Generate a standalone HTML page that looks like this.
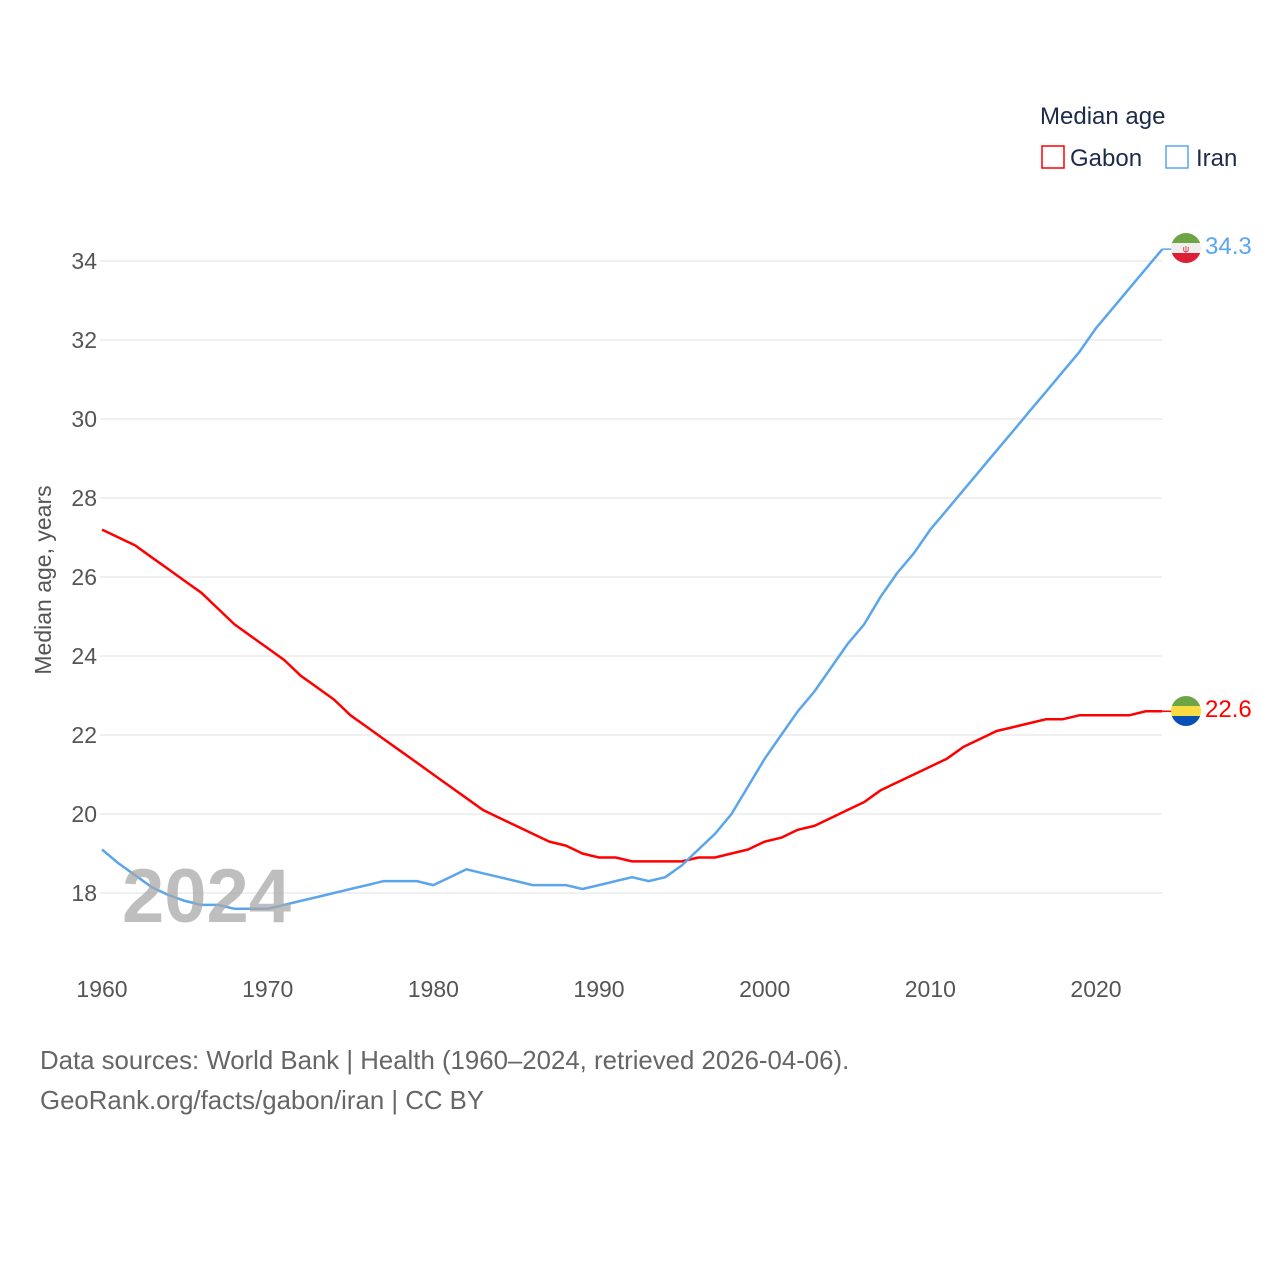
<!DOCTYPE html>
<html><head><meta charset="utf-8"><style>
body{margin:0;background:#fff;font-family:"Liberation Sans",sans-serif;}
svg text{font-family:"Liberation Sans",sans-serif;}
</style></head><body>
<svg width="1280" height="1280" xmlns="http://www.w3.org/2000/svg">
<rect width="1280" height="1280" fill="#fff"/>
<g id="grid"></g><g id="yticks"></g><g id="xticks"></g>
<g id="lines"></g>
<text x="122" y="922" font-size="76" font-weight="bold" fill="#a8a8a8" fill-opacity="0.75">2024</text>
<text transform="translate(51,580) rotate(-90)" text-anchor="middle" font-size="23" fill="#555">Median age, years</text>
<text x="1040" y="124" font-size="24" fill="#1c2b4a">Median age</text>
<g><rect x="1042" y="146" width="22" height="22" fill="none" stroke="#ff0000" stroke-width="1.5"/><text x="1070" y="166" font-size="24" fill="#1c2b4a">Gabon</text></g>
<g><rect x="1166" y="146" width="22" height="22" fill="none" stroke="#5aa5ec" stroke-width="1.5"/><text x="1196" y="166" font-size="24" fill="#1c2b4a">Iran</text></g>
<g>
<clipPath id="ci"><circle cx="1186" cy="248" r="15"/></clipPath>
<g clip-path="url(#ci)"><rect x="1170" y="232" width="32" height="11" fill="#6ea544"/><rect x="1170" y="243" width="32" height="10" fill="#eee"/><rect x="1170" y="253" width="32" height="12" fill="#dc1f35"/></g>
<text x="1186" y="252" font-size="9" fill="#dc1f35" text-anchor="middle">ψ</text></g>
<text x="1205" y="254" font-size="24" fill="#5aa5ec">34.3</text>
<g>
<clipPath id="cg"><circle cx="1186" cy="711" r="15"/></clipPath>
<g clip-path="url(#cg)"><rect x="1170" y="695" width="32" height="11" fill="#6ea544"/><rect x="1170" y="706" width="32" height="10" fill="#f9dc44"/><rect x="1170" y="716" width="32" height="12" fill="#0750b6"/></g></g>
<text x="1205" y="717" font-size="24" fill="#ff0000">22.6</text>
<text x="40" y="1069" font-size="25.8" fill="#666">Data sources: World Bank | Health (1960–2024, retrieved 2026-04-06).</text>
<text x="40" y="1109" font-size="25.8" fill="#666">GeoRank.org/facts/gabon/iran | CC BY</text>
</svg>
<script>
const years=[];for(let y=1960;y<=2024;y++)years.push(y);
const gabon=[27.2,27.0,26.8,26.5,26.2,25.9,25.6,25.2,24.8,24.5,24.2,23.9,23.5,23.2,22.9,22.5,22.2,21.9,21.6,21.3,21.0,20.7,20.4,20.1,19.9,19.7,19.5,19.3,19.2,19.0,18.9,18.9,18.8,18.8,18.8,18.8,18.9,18.9,19.0,19.1,19.3,19.4,19.6,19.7,19.9,20.1,20.3,20.6,20.8,21.0,21.2,21.4,21.7,21.9,22.1,22.2,22.3,22.4,22.4,22.5,22.5,22.5,22.5,22.6,22.6];
const iran=[19.1,18.75,18.45,18.15,17.95,17.8,17.7,17.7,17.6,17.6,17.6,17.7,17.8,17.9,18.0,18.1,18.2,18.3,18.3,18.3,18.2,18.4,18.6,18.5,18.4,18.3,18.2,18.2,18.2,18.1,18.2,18.3,18.4,18.3,18.4,18.7,19.1,19.5,20.0,20.7,21.4,22.0,22.6,23.1,23.7,24.3,24.8,25.5,26.1,26.6,27.2,27.7,28.2,28.7,29.2,29.7,30.2,30.7,31.2,31.7,32.3,32.8,33.3,33.8,34.3];
const yTicks=[18,20,22,24,26,28,30,32,34];
const xTicks=[1960,1970,1980,1990,2000,2010,2020];
const NS="http://www.w3.org/2000/svg";
const X=v=>102+(v-1960)*(994/60);
const Y=v=>893-(v-18)*39.5;
function mk(t,a,p){const e=document.createElementNS(NS,t);for(const k in a)e.setAttribute(k,a[k]);p.appendChild(e);return e;}
const grid=document.getElementById('grid'),yt=document.getElementById('yticks'),xt=document.getElementById('xticks'),ln=document.getElementById('lines');
yTicks.forEach(v=>{
const g=mk('line',{x1:100,x2:1162,y1:Y(v),y2:Y(v),stroke:'#e8e8e8','stroke-width':1.3},grid);


const t=mk('text',{x:97,y:Y(v)+8,'text-anchor':'end','font-size':23,fill:'#555'},yt);t.textContent=v;


});
xTicks.forEach(v=>{
const t=mk('text',{x:X(v),y:997,'text-anchor':'middle','font-size':23,fill:'#555'},xt);t.textContent=v;


});
function line(data,color,name){
const d=data.map((v,i)=>(i?'L':'M')+X(years[i]).toFixed(1)+','+Y(v).toFixed(1)).join('');
const p=mk('path',{d:d,fill:'none',stroke:color,'stroke-width':2.5,'stroke-linejoin':'round'},ln);


const last=data[data.length-1];
mk('line',{x1:X(2024),x2:1172,y1:Y(last),y2:Y(last),stroke:color,'stroke-width':1.5},ln);
}
line(gabon,'#ff0000','series-gabon');
line(iran,'#5aa5ec','series-iran');
</script>
</body></html>
